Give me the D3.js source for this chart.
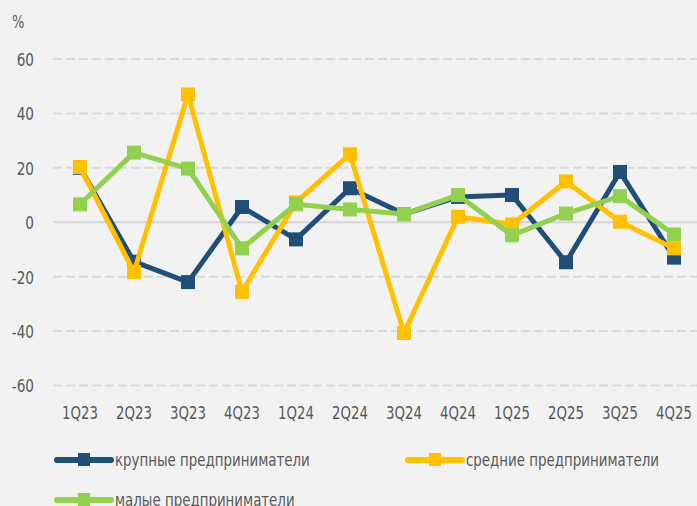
<!DOCTYPE html>
<html><head><meta charset="utf-8">
<script src="https://cdn.jsdelivr.net/npm/d3@7"></script>
<style>
html,body{margin:0;padding:0;background:#F2F2F2;}
svg{display:block;}
text{font-family:"DejaVu Sans Condensed","DejaVu Sans",sans-serif;fill:#595959;}
</style></head>
<body>
<svg id="c" width="697" height="506"></svg>
<script>
const categories = ["1Q23","2Q23","3Q23","4Q23","1Q24","2Q24","3Q24","4Q24","1Q25","2Q25","3Q25","4Q25"];
const large  = [20, -14.5, -22, 5.6, -6.3, 12.5, 3, 9.3, 10, -14.7, 18.5, -13];
const medium = [20.3, -18.3, 47, -25.6, 7.3, 25, -40.7, 2, -0.8, 15, 0.2, -9.6];
const small  = [6.6, 25.6, 19.7, -9.6, 6.6, 4.7, 3, 10, -4.8, 3.2, 9.6, -4.5];
const yTicks = [-60, -40, -20, 0, 20, 40, 60];
const seriesNames = ["крупные предприниматели", "средние предприниматели", "малые предприниматели"];
const seriesColors = ["#1F4E79", "#FFC000", "#92D050"];

const svg = d3.select("#c");
const x = d3.scaleBand().domain(categories).range([53, 701]);
const y = d3.scaleLinear().domain([-60, 60]).range([385.5, 59]);

function condense(sel, f) {
  sel.each(function() {
    const w = this.getComputedTextLength();
    d3.select(this).attr("textLength", w * f).attr("lengthAdjust", "spacingAndGlyphs");
  });
}

// grid
svg.append("g").selectAll("line").data(yTicks).join("line")
  .attr("x1", 53).attr("x2", 697)
  .attr("y1", d => y(d)).attr("y2", d => y(d))
  .attr("stroke", d => d === 0 ? "#D4D4D4" : "#D9D9D9")
  .attr("stroke-width", 2)
  .attr("stroke-dasharray", d => d === 0 ? null : "9,4");

// y axis labels
const yAxis = d3.axisLeft(y).tickValues(yTicks).tickSize(0).tickPadding(0).tickFormat(d => String(d));
const gy = svg.append("g").attr("transform", "translate(34,0)").call(yAxis);
gy.select(".domain").remove();
gy.selectAll("text").style("font-size", "18px").attr("fill", "#595959").attr("dy", "0.36em")
  .call(condense, 0.84);

// x axis labels
const xAxis = d3.axisBottom(x).tickSize(0).tickPadding(0);
const gx = svg.append("g").attr("transform", "translate(0,405)").call(xAxis);
gx.select(".domain").remove();
gx.selectAll("text").style("font-size", "18px").attr("fill", "#595959").attr("dy", "0.8em")
  .call(condense, 0.82);

svg.append("text").attr("x", 12).attr("y", 28).style("font-size", "17px").text("%")
  .call(condense, 0.85);

const data = [large, medium, small];
const line = d3.line().x((d, i) => x(categories[i]) + x.bandwidth() / 2).y(d => y(d));
data.forEach((vals, k) => {
  svg.append("path").datum(vals).attr("d", line)
    .attr("fill", "none").attr("stroke", seriesColors[k]).attr("stroke-width", 5)
    .attr("stroke-linejoin", "round");
  svg.append("g").selectAll("rect").data(vals).join("rect")
    .attr("x", (d, i) => x(categories[i]) + x.bandwidth() / 2 - 7)
    .attr("y", d => y(d) - 7)
    .attr("width", 14).attr("height", 14)
    .attr("fill", seriesColors[k]);
});

// legend
const legendPos = [[57, 460], [408, 460], [57, 500]];
seriesNames.forEach((name, k) => {
  const [lx, ly] = legendPos[k];
  const g = svg.append("g");
  g.append("line").attr("x1", lx).attr("x2", lx + 54).attr("y1", ly).attr("y2", ly)
    .attr("stroke", seriesColors[k]).attr("stroke-width", 6).attr("stroke-linecap", "round");
  g.append("rect").attr("x", lx + 21).attr("y", ly - 7).attr("width", 12).attr("height", 13)
    .attr("fill", seriesColors[k]);
  g.append("text").attr("x", lx + 58).attr("y", ly).attr("dy", "0.36em")
    .style("font-size", "17.5px").text(name)
    .call(condense, 0.85);
});
</script>
</body></html>
